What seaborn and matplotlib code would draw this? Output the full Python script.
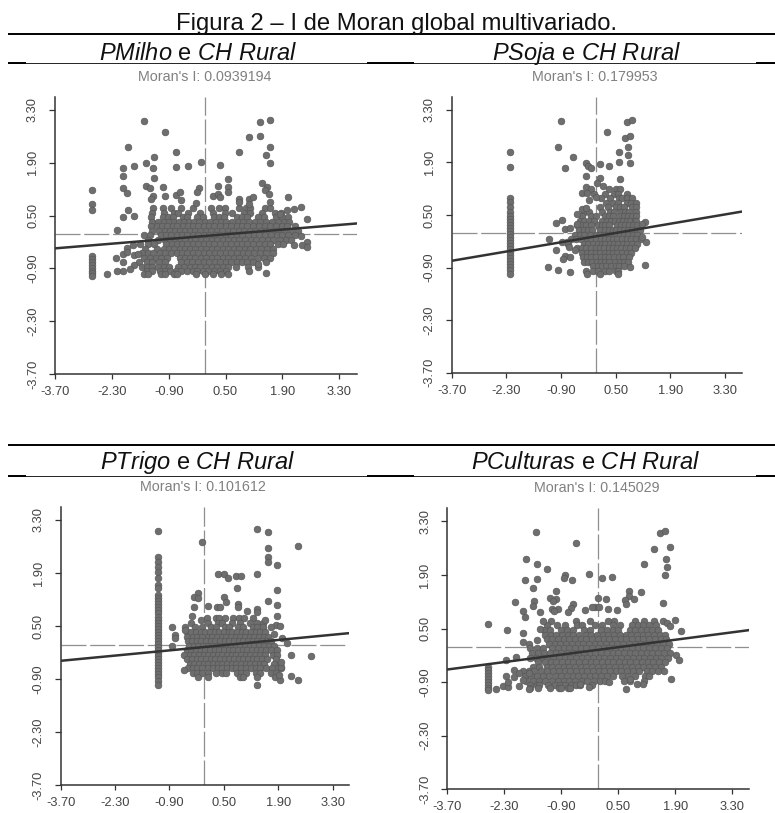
import matplotlib
matplotlib.use('Agg')
import pandas as pd
import seaborn as sns
import matplotlib.pyplot as plt
from matplotlib.lines import Line2D

sns.set_style('white')
plt.rcParams['font.family'] = ['Liberation Sans', 'DejaVu Sans']
plt.rcParams['mathtext.fontset'] = 'custom'
plt.rcParams['mathtext.it'] = 'Liberation Sans:italic'
plt.rcParams['mathtext.rm'] = 'Liberation Sans'

W, H = 775, 813

tick_values = [-3.70, -2.30, -0.90, 0.50, 1.90, 3.30]
tick_labels = ['-3.70', '-2.30', '-0.90', '0.50', '1.90', '3.30']

# rows of the dense cloud, y values
cloud_y = [0.70, 0.58, 0.46, 0.34, 0.22, 0.10, -0.02, -0.14, -0.26, -0.38, -0.50, -0.62, -0.74, -0.86, -0.98, -1.06]
soja_top_y = [1.18, 1.06, 0.94, 0.82]

milho_rows = [
    [-1.28, -1.05, -0.85, -0.6, -0.3, 0.15, 0.33, 0.48, 0.84, 1.0, 1.1, 1.47, 1.6],
    [-1.32, -1.02, -0.78, -0.66, -0.42, -0.12, 0.2, 0.48, 0.66, 0.96, 1.1, 1.4, 1.72, 1.86],
    [-1.34, -1.05, -0.92, -0.8, -0.56, -0.45, -0.2, -0.05, 0.22, 0.34, 0.47, 0.78, 0.9, 1.03, 1.3, 1.45, 1.74, 1.9, 2.05],
    [-1.3, -1.16, -1.02, -0.9, -0.78, -0.65, -0.52, -0.4, -0.28, -0.15, 0.0, 0.12, 0.26, 0.4, 0.52, 0.66, 0.8, 0.94, 1.08, 1.22, 1.36, 1.5, 1.64, 1.78, 1.94, 2.06],
    [-1.33, -1.2, -1.06, -0.94, -0.8, -0.69, -0.55, -0.43, -0.3, -0.18, -0.04, 0.09, 0.22, 0.36, 0.5, 0.63, 0.77, 0.9, 1.04, 1.18, 1.32, 1.47, 1.6, 1.74, 1.88, 2.02, 2.2],
    [-1.3, -1.14, -1.0, -0.88, -0.75, -0.62, -0.5, -0.37, -0.25, -0.12, 0.02, 0.15, 0.28, 0.41, 0.55, 0.68, 0.82, 0.95, 1.09, 1.23, 1.37, 1.5, 1.66, 1.8, 1.94, 2.1, 2.28],
    [-1.5, -1.36, -1.1, -0.96, -0.84, -0.7, -0.57, -0.44, -0.31, -0.17, -0.03, 0.1, 0.24, 0.37, 0.51, 0.64, 0.78, 0.91, 1.05, 1.19, 1.33, 1.46, 1.62, 1.76, 1.9, 2.05, 2.22],
    [-1.42, -1.17, -1.0, -0.88, -0.75, -0.62, -0.49, -0.36, -0.24, -0.1, 0.03, 0.17, 0.3, 0.44, 0.57, 0.71, 0.84, 0.98, 1.12, 1.26, 1.4, 1.54, 1.68, 1.84, 2.0, 2.12],
    [-1.6, -1.4, -1.26, -0.96, -0.83, -0.7, -0.57, -0.44, -0.31, -0.18, -0.04, 0.09, 0.22, 0.36, 0.5, 0.63, 0.77, 0.9, 1.04, 1.18, 1.32, 1.46, 1.6, 1.78, 1.92],
    [-1.48, -1.2, -1.02, -0.9, -0.76, -0.63, -0.5, -0.37, -0.25, -0.11, 0.02, 0.16, 0.29, 0.43, 0.56, 0.7, 0.83, 0.97, 1.11, 1.25, 1.38, 1.52, 1.68],
    [-1.55, -1.42, -1.28, -1.12, -0.98, -0.84, -0.7, -0.57, -0.44, -0.3, -0.17, -0.03, 0.1, 0.24, 0.37, 0.51, 0.64, 0.78, 0.92, 1.05, 1.2, 1.34, 1.5, 1.66],
    [-1.5, -1.36, -1.22, -1.08, -0.95, -0.62, -0.5, -0.37, -0.24, -0.1, 0.03, 0.16, 0.3, 0.44, 0.57, 0.7, 0.84, 0.98, 1.12, 1.3, 1.44, 1.6],
    [-1.62, -1.44, -1.3, -1.15, -1.0, -0.6, -0.46, -0.32, -0.18, -0.04, 0.09, 0.23, 0.36, 0.5, 0.63, 0.77, 0.9, 1.04, 1.18, 1.5],
    [-1.56, -1.44, -1.3, -1.16, -1.02, -0.9, -0.66, -0.52, -0.38, -0.25, -0.12, 0.02, 0.16, 0.3, 0.44, 0.56, 0.76, 1.05, 1.3],
    [-1.44, -1.3, -1.12, -1.0, -0.88, -0.72, -0.6, -0.44, -0.3, -0.2, -0.06, 0.08, 0.22, 0.36, 0.52, 1.07],
    [-1.5, -1.42, -1.08, -1.0, -0.76, -0.7, -0.22, 0.0, 0.2, 0.38, 0.56],
]
milho_extra_x = [-1.50, -1.00, -1.90, -0.72, -1.26, -1.46, -1.76, -2.03, -1.29, -0.72, -0.43, -0.10, 0.37, 0.84, 1.07, 1.34, 1.34, 1.60, 1.60, 1.49, 1.60,
                 -2.03, -1.26, 0.57, -2.79, -2.79, -2.79, -2.03, -1.93, -1.46, -1.36, -1.03, -1.29, -1.34, -1.00, -0.72, -0.62, -0.59, -0.16, -0.21, -0.23,
                 0.31, 0.57, 0.57, 0.18, 0.31, 0.37, 0.84, 0.84, 1.07, 1.17, 1.07, 1.40, 1.53, 1.46, 1.57, 1.60, 2.04, -1.90, -2.03, -1.76, -2.17,
                 2.37, 2.51, 2.18, 2.01, 1.83, 2.37, 2.51, 2.38, 2.50, 2.18,
                 -2.79, -2.79, -2.79, -2.79, -2.79, -2.79, -2.79, -2.79, -2.43, -2.17, -2.03, -2.19, -2.03, -1.93, -1.93, -2.03, -1.76, -1.76, -1.65, -1.86, -1.77, 1.49, 1.3]
milho_extra_y = [3.01, 2.71, 2.31, 2.18, 2.05, 1.88, 1.81, 1.75, 1.75, 1.79, 1.81, 1.92, 1.85, 2.18, 2.58, 2.61, 2.97, 3.04, 2.31, 2.11, 1.88,
                 1.55, 1.49, 1.46, 1.19, 0.80, 0.64, 1.22, 1.10, 1.29, 1.23, 1.25, 1.02, 0.95, 1.02, 1.05, 1.12, 0.92, 1.22, 1.12, 0.84,
                 1.29, 1.26, 1.12, 1.02, 1.08, 0.99, 0.95, 0.86, 0.95, 0.99, 0.81, 1.36, 1.26, 1.17, 1.06, 0.86, 0.99, 0.65, 0.46, 0.50, 0.12,
                 0.73, 0.42, 0.68, 0.65, 0.55, -0.05, -0.20, -0.27, -0.34, -0.29,
                 -0.58, -0.66, -0.74, -0.82, -0.90, -0.98, -1.03, -1.09, -1.06, -0.97, -0.97, -0.63, -0.51, -0.35, -0.47, -0.73, -0.80, -0.54, -0.51, -0.91, -0.29, -1.03, -0.78]
milho_line_x = [-3.70, 3.73]
milho_line_y = [-0.37, 0.29]

soja_top_rows = [
    [0.32, 0.5, 0.62],
    [0.22, 0.45, 0.55, 0.8],
    [0.12, 0.36, 0.58, 0.66, 0.8, 0.92],
    [0.25, 0.44, 0.56, 0.8, 0.9, 1.02],
]
soja_rows = [
    [0.1, 0.3, 0.5, 0.6, 0.72, 0.92, 1.03],
    [-0.3, -0.18, 0.15, 0.36, 0.46, 0.64, 0.74, 0.84, 1.03],
    [-0.35, -0.12, 0.0, 0.22, 0.32, 0.42, 0.62, 0.72, 0.82, 0.92, 1.03],
    [-0.42, -0.3, -0.18, -0.06, 0.16, 0.28, 0.38, 0.48, 0.58, 0.68, 0.78, 0.88, 1.0, 1.03],
    [-0.5, -0.38, -0.26, -0.14, 0.04, 0.14, 0.24, 0.34, 0.54, 0.64, 0.74, 0.84, 0.94, 1.04],
    [-0.45, -0.32, -0.2, -0.1, 0.1, 0.22, 0.32, 0.42, 0.52, 0.62, 0.72, 0.82, 0.92, 1.04, 1.12],
    [-0.55, -0.42, -0.3, -0.15, 0.0, 0.1, 0.2, 0.3, 0.42, 0.52, 0.62, 0.72, 0.82, 0.94, 1.06],
    [-0.65, -0.52, -0.38, -0.24, -0.12, 0.0, 0.12, 0.24, 0.34, 0.44, 0.54, 0.66, 0.78, 0.9, 1.02, 1.15],
    [-0.72, -0.3, -0.2, -0.08, 0.04, 0.14, 0.24, 0.36, 0.46, 0.56, 0.68, 0.8, 0.92, 1.05],
    [-0.48, -0.35, -0.25, -0.12, 0.0, 0.1, 0.2, 0.32, 0.42, 0.54, 0.64, 0.76, 0.88, 1.0],
    [-0.36, -0.24, -0.12, 0.0, 0.1, 0.22, 0.32, 0.42, 0.54, 0.66, 0.78, 0.9],
    [-0.34, -0.24, -0.12, 0.0, 0.12, 0.24, 0.34, 0.46, 0.58, 0.7, 0.84],
    [-0.32, -0.22, -0.1, 0.02, 0.12, 0.22, 0.34, 0.48, 0.6, 0.72, 0.82],
    [-0.08, 0.04, 0.16, 0.26, 0.38, 0.5, 0.58, 0.72],
    [-0.26, -0.08, 0.06, 0.24, 0.34, 0.5, 0.56],
    [-0.24, 0.1, 0.56],
]
soja_extra_x = [-2.2, -2.2, -2.2, -2.2, -2.2, -2.2, -2.2, -2.2, -2.2, -2.2, -2.2, -2.2, -2.2, -2.2, -2.2, -2.2, -2.2, -2.2, -2.2, -2.2, -2.2, -2.2, -2.2, -2.2, -2.2, -2.2,
                -0.9, -0.97, -0.6, -0.79, -0.27, -0.21, -0.12, -0.26, 0.1, 0.34, 0.27, 0.8, 0.92, 0.74, 0.88, 0.81, 0.58, 0.81, 0.58, 0.88, 0.61, 0.1, 0.03, 0.18,
                -0.27, -0.14, -0.37, -0.23, -0.06, -0.19, 0.0, -0.36, -0.25, -0.5, -1.03, -0.87, -0.79, -0.66, -0.49, -1.21, -1.03, -0.79, -0.85, -0.66, -1.23, -0.97, -0.66,
                1.25, 0.88, 1.25, 1.18, 1.28, 1.18, -0.74, -0.87, -0.7, -0.53]
soja_extra_y = [2.18, 1.78, 0.96, 0.84, 0.71, 0.58, 0.48, 0.40, 0.32, 0.24, 0.16, 0.08, 0.0, -0.08, -0.16, -0.24, -0.32, -0.40, -0.48, -0.56, -0.64, -0.72, -0.80, -0.88, -0.96, -1.08,
                3.01, 2.31, 2.04, 1.75, 1.88, 1.80, 1.75, 1.55, 1.85, 1.81, 2.71, 2.97, 3.04, 2.54, 2.61, 2.31, 2.18, 2.11, 1.91, 1.88, 1.47, 1.48, 1.35, 1.28,
                1.24, 1.20, 1.09, 1.08, 1.07, 0.89, 0.98, 0.67, 0.69, 0.52, 0.29, 0.36, 0.13, 0.15, 0.27, -0.14, -0.44, -0.58, -0.67, -0.62, -0.89, -0.96, -1.03,
                -0.84, -0.89, 0.31, 0.27, -0.22, -0.09, -0.22, -0.22, -0.36, -0.44]
soja_line_x = [-3.70, 3.73]
soja_line_y = [-0.72, 0.59]

trigo_rows = [
    [0.06, 0.3, 0.38, 0.52, 0.74, 0.88, 1.02, 1.24],
    [-0.35, 0.1, 0.36, 0.46, 0.7, 0.92, 1.18, 1.36, 1.5],
    [-0.5, -0.24, -0.06, 0.18, 0.3, 0.54, 0.64, 0.86, 0.98, 1.24, 1.36, 1.5],
    [-0.46, -0.34, -0.22, -0.1, 0.02, 0.14, 0.26, 0.38, 0.5, 0.62, 0.72, 0.84, 0.96, 1.08, 1.2, 1.32, 1.44, 1.56],
    [-0.44, -0.3, -0.18, -0.06, 0.08, 0.2, 0.32, 0.44, 0.56, 0.68, 0.8, 0.92, 1.04, 1.16, 1.28, 1.4, 1.52, 1.64],
    [-0.42, -0.32, -0.2, -0.08, 0.04, 0.16, 0.28, 0.4, 0.52, 0.64, 0.76, 0.88, 1.0, 1.12, 1.24, 1.36, 1.48, 1.6, 1.72],
    [-0.4, -0.28, -0.16, -0.04, 0.08, 0.2, 0.32, 0.44, 0.56, 0.68, 0.8, 0.92, 1.04, 1.16, 1.28, 1.4, 1.52, 1.66, 1.8],
    [-0.46, -0.34, -0.22, -0.1, 0.02, 0.14, 0.26, 0.38, 0.5, 0.62, 0.74, 0.86, 0.98, 1.1, 1.22, 1.34, 1.46, 1.58, 1.72, 1.86],
    [-0.52, -0.38, -0.26, -0.14, -0.02, 0.1, 0.22, 0.34, 0.46, 0.58, 0.7, 0.82, 0.94, 1.06, 1.18, 1.3, 1.42, 1.56, 1.76, 1.86],
    [-0.44, -0.32, -0.2, -0.08, 0.04, 0.16, 0.28, 0.4, 0.52, 0.64, 0.76, 0.88, 1.0, 1.12, 1.24, 1.36, 1.48, 1.6, 1.84],
    [-0.38, -0.26, -0.14, -0.02, 0.1, 0.22, 0.34, 0.46, 0.58, 0.7, 0.82, 0.94, 1.06, 1.18, 1.3, 1.42, 1.54, 1.8, 1.94],
    [-0.42, -0.3, -0.18, -0.06, 0.1, 0.22, 0.34, 0.46, 0.58, 0.7, 0.82, 0.94, 1.06, 1.2, 1.32, 1.44, 1.58, 1.74, 1.88, 1.96],
    [-0.3, -0.18, -0.06, 0.08, 0.3, 0.44, 0.56, 0.84, 0.94, 1.06, 1.32, 1.44, 1.72, 1.84],
    [-0.16, 0.1, 0.92, 0.98, 1.34, 1.82],
    [],
    [],
]
trigo_extra_x = [-1.2, -1.2, -1.2, -1.2, -1.2, -1.2, -1.2, -1.2, -1.2, -1.2, -1.2, -1.2, -1.2, -1.2, -1.2, -1.2, -1.2, -1.2, -1.2, -1.2, -1.2, -1.2, -1.2, -1.2, -1.2, -1.2, -1.2, -1.2, -1.2, -1.2, -1.2, -1.2, -1.2, -1.2, -1.2, -1.2, -1.2, -1.2,
                 -0.07, 1.36, 1.64, 1.64, 2.41, 1.64, 1.64, 1.87, 1.36, 0.34, 0.5, 0.6, 0.8, 0.94, 0.84, 1.87, 0.51, -0.17, -0.27, -0.16, 0.55, 1.64, 1.87, -0.27, 0.09, 0.33, 0.41, 0.87, 0.87,
                 1.36, 1.36, 1.1, -0.33, -0.1, 1.87, 1.57, 1.83, 1.94, 1.7, 1.8, 2.0, 2.13, 2.24, 2.74, 2.24, 2.41, 1.94, 1.34, 1.92, 1.98, 1.98, -0.83, -0.77, -0.77, -0.83, -0.49, -0.53]
trigo_extra_y = [3.01, 2.31, 2.19, 2.06, 1.93, 1.78, 1.58, 1.49, 1.31, 1.23, 1.15, 1.07, 0.99, 0.91, 0.83, 0.75, 0.67, 0.59, 0.51, 0.43, 0.35, 0.27, 0.19, 0.11, 0.03, -0.05, -0.13, -0.21, -0.29, -0.37, -0.45, -0.53, -0.61, -0.69, -0.77, -0.85, -0.95, -1.07,
                 2.71, 3.05, 2.98, 2.55, 2.61, 2.32, 2.19, 2.12, 1.88, 1.86, 1.88, 1.77, 1.82, 1.82, 1.50, 1.46, 1.26, 1.36, 1.26, 1.24, 1.14, 1.16, 1.06, 1.00, 1.03, 1.00, 1.00, 1.07, 0.99,
                 0.96, 0.87, 0.89, 0.76, 0.67, 0.76, 0.67, 0.52, 0.49, 0.48, 0.28, 0.17, 0.04, -0.26, -0.30, -0.82, -0.92, -0.92, -1.06, -0.80, -0.58, -0.45, 0.47, 0.26, 0.18, -0.04, 0.39, -0.65]
trigo_line_x = [-3.70, 3.72]
trigo_line_y = [-0.42, 0.31]

culturas_rows = [
    [-1.15, -0.55, -0.2, 0.24, 0.4, 0.92, 1.14, 1.38],
    [-1.25, -1.0, -0.8, -0.52, -0.38, -0.08, 0.1, 0.38, 0.54, 0.84, 0.98, 1.12, 1.26, 1.42],
    [-1.32, -1.18, -0.9, -0.76, -0.62, -0.34, -0.2, 0.08, 0.22, 0.36, 0.5, 0.78, 0.92, 1.06, 1.2, 1.34, 1.48],
    [-1.3, -1.16, -1.02, -0.88, -0.74, -0.6, -0.46, -0.3, -0.16, -0.02, 0.12, 0.26, 0.4, 0.54, 0.68, 0.82, 0.96, 1.1, 1.24, 1.38, 1.52, 1.66],
    [-1.26, -1.12, -0.98, -0.84, -0.7, -0.56, -0.42, -0.28, -0.14, 0.0, 0.14, 0.28, 0.42, 0.56, 0.7, 0.84, 0.98, 1.12, 1.26, 1.4, 1.54, 1.68],
    [-1.7, -1.2, -1.06, -0.92, -0.78, -0.64, -0.5, -0.36, -0.22, -0.08, 0.06, 0.2, 0.34, 0.48, 0.62, 0.76, 0.9, 1.04, 1.18, 1.32, 1.46, 1.6, 1.74],
    [-1.68, -1.5, -1.36, -1.12, -0.98, -0.84, -0.7, -0.56, -0.42, -0.28, -0.14, 0.0, 0.14, 0.28, 0.42, 0.56, 0.7, 0.84, 0.98, 1.12, 1.26, 1.4, 1.54, 1.7],
    [-1.62, -1.48, -1.32, -1.18, -1.04, -0.9, -0.76, -0.62, -0.48, -0.34, -0.2, -0.06, 0.08, 0.22, 0.36, 0.5, 0.64, 0.78, 0.92, 1.06, 1.2, 1.34, 1.48, 1.62, 1.78],
    [-1.66, -1.52, -1.38, -1.24, -1.1, -0.96, -0.82, -0.68, -0.54, -0.4, -0.26, -0.12, 0.02, 0.16, 0.3, 0.44, 0.58, 0.72, 0.86, 1.0, 1.14, 1.28, 1.42, 1.56, 1.72],
    [-1.48, -1.3, -1.16, -1.02, -0.88, -0.74, -0.6, -0.46, -0.32, -0.18, -0.04, 0.1, 0.24, 0.38, 0.52, 0.66, 0.8, 0.94, 1.08, 1.22, 1.36, 1.5, 1.66],
    [-1.6, -1.44, -1.26, -1.12, -0.98, -0.84, -0.7, -0.56, -0.42, -0.28, -0.14, 0.0, 0.14, 0.28, 0.42, 0.56, 0.7, 0.84, 0.98, 1.12, 1.26, 1.4, 1.54],
    [-1.84, -1.7, -1.56, -1.4, -1.24, -1.1, -0.96, -0.82, -0.68, -0.54, -0.4, -0.26, -0.12, 0.02, 0.16, 0.3, 0.44, 0.58, 0.72, 0.86, 1.0, 1.2, 1.34, 1.48, 1.62],
    [-1.8, -1.64, -1.5, -1.34, -1.2, -1.04, -0.9, -0.76, -0.62, -0.48, -0.34, -0.2, -0.06, 0.08, 0.22, 0.36, 0.6, 0.74, 0.9, 1.16, 1.26],
    [-1.76, -1.6, -1.44, -1.3, -1.12, -0.98, -0.84, -0.7, -0.56, -0.4, -0.26, -0.1, 0.04, 0.18, 0.64, 0.78, 1.14],
    [-1.66, -1.5, -1.44, -1.22, -1.06, -0.92, -0.8, -0.66, -0.54, -0.44],
    [-1.68, -1.48, -1.18, -0.96, -0.9, -0.74, -0.68],
]
culturas_extra_x = [-1.53, -0.53, 1.53, 1.64, 1.38, 1.76, -1.77, 1.67, -1.50, 1.70, 1.14, -1.26, -0.23, -0.80, -0.84, -0.63, -1.80, -1.50, 0.11, 0.34, 1.64, -1.59, -1.03, 0.77, 1.07,
                    -1.17, -1.03, -1.11, -2.03, -1.57, -1.59, 0.00, 0.20, 0.77, 0.88, 0.66, 0.69, 1.61, -0.60, -0.66, -0.07, 0.02, -0.15, 0.25, 0.47, -1.13, -0.98, -1.08, -1.83, -1.80, -1.43, -0.31, -0.74, -1.34,
                    -2.70, -2.24, -1.83, -1.43, -1.50, -1.83, 1.90, 1.60, 1.70, 1.78, 2.04,
                    -2.70, -2.70, -2.70, -2.70, -2.70, -2.70, -2.70, -2.70, -2.70, -2.50, -2.27, -2.00, -2.27, -2.07, -2.32, -2.20, -2.20, -2.07, -1.95, -1.95, -1.83, -1.70, -1.70,
                    1.92, 2.00, 1.80, 0.70, 0.96, 1.12, 0.80, -0.15, -0.21, 0.28, -0.43]
culturas_extra_y = [3.02, 2.73, 2.99, 3.04, 2.59, 2.62, 2.33, 2.33, 2.19, 2.12, 2.19, 2.05, 1.93, 1.89, 1.82, 1.76, 1.76, 1.79, 1.83, 1.86, 1.89, 1.56, 1.49, 1.49, 1.46,
                    1.30, 1.27, 1.23, 1.20, 1.22, 1.10, 1.29, 1.27, 1.35, 1.27, 1.25, 1.15, 1.16, 1.13, 1.04, 1.07, 1.07, 1.06, 1.02, 0.99, 1.02, 1.02, 0.96, 0.96, 0.80, 0.94, 0.99, 0.94, 0.70,
                    0.63, 0.46, 0.39, 0.49, 0.20, 0.16, 0.73, 0.70, 0.64, 0.57, 0.43,
                    -0.50, -0.58, -0.66, -0.74, -0.82, -0.90, -0.98, -1.05, -1.10, -1.07, -0.32, -0.24, -0.74, -0.57, -1.00, -1.04, -0.89, -0.76, -1.00, -0.67, -0.85, -1.07, -0.67,
                    -0.19, -0.32, -0.83, -1.07, -0.94, -0.94, -0.83, -0.98, -1.02, -0.89, -0.96]
culturas_line_x = [-3.70, 3.72]
culturas_line_y = [-0.57, 0.46]

mean_lines = [(-0.005, 0.01), (-0.01, 0.01), (-0.02, 0.0), (-0.005, 0.01)]


def points(rows, ys, extra_x, extra_y):
    xs, yy = [], []
    for r, y in zip(rows, ys):
        xs += r
        yy += [y] * len(r)
    return pd.DataFrame({'x': xs + extra_x, 'y': yy + extra_y})


def px_axes(fig, left, right, top, bottom):
    return fig.add_axes([left / W, 1 - bottom / H, (right - left) / W, (bottom - top) / H])


panels = [
    {'rows': milho_rows, 'ys': cloud_y, 'ex': milho_extra_x, 'ey': milho_extra_y, 'lx': milho_line_x, 'ly': milho_line_y,
     'box': (55, 356.7, 96.7, 374), 'title': r'$\mathit{PMilho}$ e $\mathit{CH\ Rural}$', 'tpos': (198, 60),
     'moran': "Moran's I: 0.0939194", 'mpos': (204.5, 77)},
    {'rows': soja_top_rows + soja_rows, 'ys': soja_top_y + cloud_y, 'ex': soja_extra_x, 'ey': soja_extra_y, 'lx': soja_line_x, 'ly': soja_line_y,
     'box': (451.7, 741.7, 96.7, 372.7), 'title': r'$\mathit{PSoja}$ e $\mathit{CH\ Rural}$', 'tpos': (586, 60),
     'moran': "Moran's I: 0.179953", 'mpos': (595, 77)},
    {'rows': trigo_rows, 'ys': cloud_y, 'ex': trigo_extra_x, 'ey': trigo_extra_y, 'lx': trigo_line_x, 'ly': trigo_line_y,
     'box': (60.7, 349, 506.7, 785), 'title': r'$\mathit{PTrigo}$ e $\mathit{CH\ Rural}$', 'tpos': (198, 469),
     'moran': "Moran's I: 0.101612", 'mpos': (203, 487)},
    {'rows': culturas_rows, 'ys': cloud_y, 'ex': culturas_extra_x, 'ey': culturas_extra_y, 'lx': culturas_line_x, 'ly': culturas_line_y,
     'box': (447.3, 749.3, 508, 789.3), 'title': r'$\mathit{PCulturas}$ e $\mathit{CH\ Rural}$', 'tpos': (586, 469),
     'moran': "Moran's I: 0.145029", 'mpos': (597, 488)},
]

fig = plt.figure(figsize=(W / 100, H / 100), dpi=100)

for p, (mx, my) in zip(panels, mean_lines):
    ax = px_axes(fig, *p['box'])
    ax.axvline(mx, color='#8f8f8f', lw=0.9, dashes=(20, 3), zorder=1)
    ax.axhline(my, color='#8f8f8f', lw=0.9, dashes=(20, 3), zorder=1)
    df = points(p['rows'], p['ys'], p['ex'], p['ey'])
    sns.scatterplot(data=df, x='x', y='y', ax=ax, s=23, color='#6e6e6e', edgecolor='#585858', linewidth=0.5, zorder=2, clip_on=False)
    sns.lineplot(x=p['lx'], y=p['ly'], ax=ax, color='#333333', lw=1.8, zorder=3, errorbar=None)
    ax.set_xlim(-3.7, p['lx'][1])
    ax.set_ylim(-3.7, 3.65)
    ax.set_xticks(tick_values)
    ax.set_xticklabels(tick_labels)
    ax.set_yticks(tick_values)
    ax.set_yticklabels(tick_labels, rotation=90, va='center')
    ax.set_xlabel('')
    ax.set_ylabel('')
    ax.tick_params(axis='x', bottom=True, length=3.5, width=0.9, color='#333333', labelcolor='#444444', labelsize=9.3, pad=5)
    ax.tick_params(axis='y', left=True, length=4, width=0.9, color='#333333', labelcolor='#444444', labelsize=9.3, pad=7.5)
    sns.despine(ax=ax)
    ax.spines['left'].set_color('#333333')
    ax.spines['bottom'].set_color('#333333')
    ax.spines['left'].set_linewidth(1.1)
    ax.spines['bottom'].set_linewidth(1.1)
    ax.patch.set_alpha(0)
    fig.text(p['tpos'][0] / W, 1 - p['tpos'][1] / H, p['title'], fontsize=17, ha='center', va='baseline', color='#111111')
    fig.text(p['mpos'][0] / W, 1 - p['mpos'][1] / H, p['moran'], fontsize=10.3, ha='center', va='center', color='#808080')

fig.text(397 / W, 1 - 30 / H, 'Figura 2 – I de Moran global multivariado.', fontsize=17.2, ha='center', va='baseline', color='#111111')


def rule(x0, x1, y, lw):
    fig.add_artist(Line2D([x0 / W, x1 / W], [1 - y / H, 1 - y / H], color='black', lw=lw, solid_capstyle='butt'))


rule(8, 775, 34.5, 1.4)
rule(8, 775, 445, 1.4)
for y in [63.3, 475.7]:
    rule(8, 775, y, 0.6)
    rule(8, 26, y, 1.4)
    rule(367, 414, y, 1.4)
    rule(756, 775, y, 1.4)

fig.savefig('out.png', dpi=100)
